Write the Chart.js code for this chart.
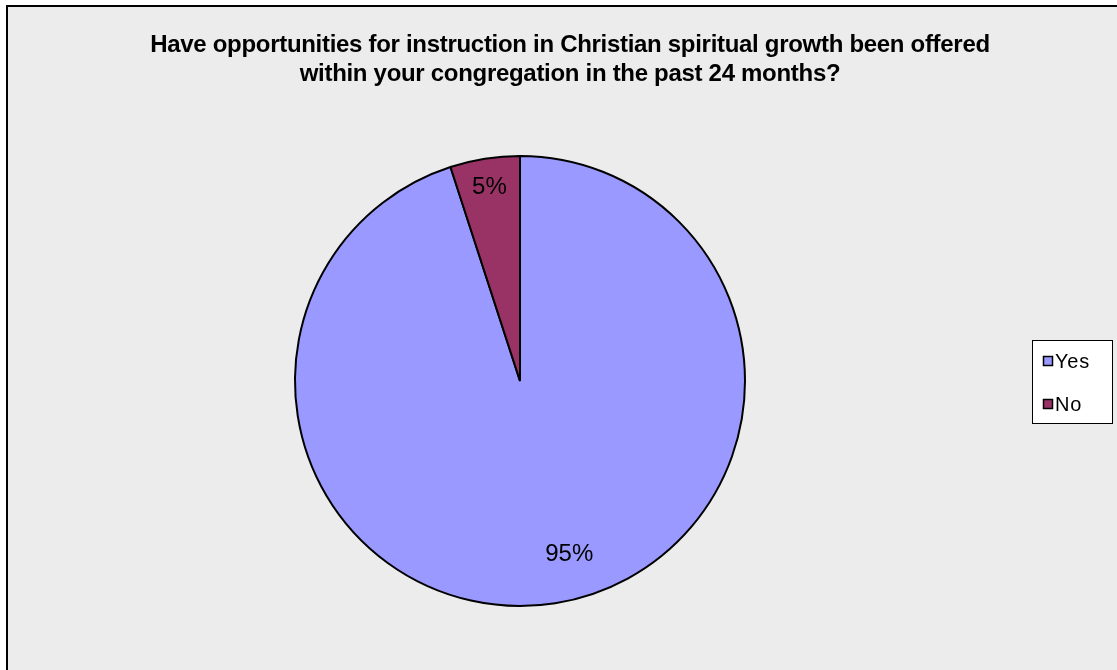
<!DOCTYPE html>
<html>
<head>
<meta charset="utf-8">
<script src="https://cdn.jsdelivr.net/npm/chart.js@4/dist/chart.umd.min.js"></script>
<style>
  html, body { margin: 0; padding: 0; background: #fff; }
  #wrap { position: relative; width: 1117px; height: 670px; }
</style>
</head>
<body>
<div id="wrap"><canvas id="pie" width="1117" height="670"></canvas></div>
<script>
const titleLines = [
  'Have opportunities for instruction in Christian spiritual growth been offered',
  'within your congregation in the past 24 months?'
]
const labels = ['Yes', 'No']
const values = [95, 5]
const colors = ['#9999ff', '#993366']

// frame + grey background, like the exported sheet
const framePlugin = {
  id: 'frame',
  beforeDraw(chart) {
    const ctx = chart.ctx
    ctx.save()
    ctx.fillStyle = '#fff'
    ctx.fillRect(0, 0, chart.width, chart.height)
    ctx.fillStyle = '#ececec'
    ctx.fillRect(7, 6, chart.width, chart.height)
    ctx.strokeStyle = '#000'
    ctx.lineWidth = 2
    ctx.beginPath()
    ctx.moveTo(7, chart.height)
    ctx.lineTo(7, 6)
    ctx.lineTo(chart.width, 6)
    ctx.stroke()
    ctx.restore()
  }
}

const titlePlugin = {
  id: 'bigTitle',
  afterDraw(chart) {
    const ctx = chart.ctx
    ctx.save()
    ctx.font = 'bold 24px "Liberation Sans", Arial, sans-serif'
    ctx.letterSpacing = '-0.3px'
    ctx.fillStyle = '#000'
    ctx.textAlign = 'center'
    ctx.textBaseline = 'alphabetic'
    titleLines.forEach((t, i) => ctx.fillText(t, 570, 52 + i * 29))
    ctx.restore()
  }
}

// percentage labels inside the slices
const valueLabels = {
  id: 'valueLabels',
  afterDatasetsDraw(chart) {
    const ctx = chart.ctx
    const meta = chart.getDatasetMeta(0)
    const total = values.reduce((a, b) => a + b, 0)
    ctx.save()
    ctx.font = '24px "Liberation Sans", Arial, sans-serif'
    ctx.fillStyle = '#000'
    ctx.textAlign = 'center'
    ctx.textBaseline = 'middle'
    meta.data.forEach((arc, i) => {
      const mid = (arc.startAngle + arc.endAngle) / 2
      const big = values[i] / total > 0.5
      // excel nudges the big slice's label a bit off the bisector
      const a = big ? mid - 0.12 : mid
      const r = arc.outerRadius * (big ? 0.8 : 0.87)
      const x = arc.x + Math.cos(a) * r
      const y = arc.y + Math.sin(a) * r
      ctx.fillText(Math.round(values[i] / total * 100) + '%', x, y)
    })
    ctx.restore()
  }
}

const boxLegend = {
  id: 'boxLegend',
  afterDraw(chart) {
    const ctx = chart.ctx
    ctx.save()
    ctx.fillStyle = '#fff'
    ctx.fillRect(1032, 340, 80, 83)
    ctx.strokeStyle = '#000'
    ctx.lineWidth = 1
    ctx.strokeRect(1032.5, 340.5, 80, 83)
    ctx.font = '20px "Liberation Sans", Arial, sans-serif'
    ctx.letterSpacing = '0.8px'
    ctx.textBaseline = 'alphabetic'
    labels.forEach((l, i) => {
      const y = 356 + i * 43
      ctx.fillStyle = colors[i]
      ctx.fillRect(1043, y, 10, 10)
      ctx.strokeStyle = '#000'
      ctx.lineWidth = 1.5
      ctx.strokeRect(1043.5, y + 0.5, 9, 9)
      ctx.fillStyle = '#000'
      ctx.fillText(l, 1055, y + 12)
    })
    ctx.restore()
  }
}

new Chart(document.getElementById('pie'), {
  type: 'pie',
  data: {
    labels: labels,
    datasets: [{
      data: values,
      backgroundColor: colors,
      borderColor: '#000',
      borderWidth: 2
    }]
  },
  options: {
    responsive: false,
    animation: false,
    layout: { padding: { left: 294, top: 155, right: 371, bottom: 63 } },
    plugins: {
      legend: { display: false },
      title: { display: false },
      tooltip: { enabled: false }
    }
  },
  plugins: [framePlugin, valueLabels, titlePlugin, boxLegend]
})
</script>
</body>
</html>
